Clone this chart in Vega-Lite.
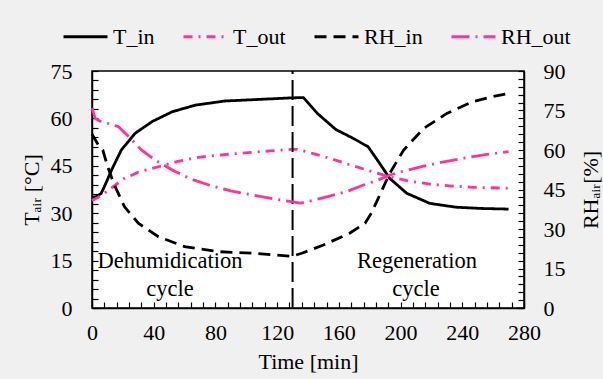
{
  "$schema": "https://vega.github.io/schema/vega-lite/v6.json",
  "width": 432,
  "height": 237,
  "autosize": {"type": "none"},
  "padding": {"left": 92, "top": 71, "right": 79, "bottom": 71},
  "background": "#f0f0f0",
  "config": {
    "view": {"fill": "white", "stroke": "black", "strokeWidth": 1.5},
    "font": "Liberation Serif",
    "axis": {
      "labelFont": "Liberation Serif",
      "titleFont": "Liberation Serif",
      "labelFontSize": 22,
      "titleFontSize": 22,
      "titleFontWeight": "normal",
      "labelColor": "black",
      "titleColor": "black",
      "domainColor": "black",
      "domainWidth": 1.5,
      "ticks": true,
      "tickColor": "black",
      "tickWidth": 1.2,
      "tickSize": -6,
      "labelOverlap": false,
      "labelBound": false,
      "labelFlush": false,
      "grid": false,
      "zindex": 1
    }
  },
  "datasets": {
    "temp": [
      {"t": 0, "v": 35, "s": "T_in"}, {"t": 3, "v": 35.3, "s": "T_in"}, {"t": 6, "v": 36.3, "s": "T_in"},
      {"t": 9, "v": 39.5, "s": "T_in"}, {"t": 13, "v": 44, "s": "T_in"}, {"t": 19, "v": 50, "s": "T_in"},
      {"t": 28, "v": 55.3, "s": "T_in"}, {"t": 39, "v": 59, "s": "T_in"}, {"t": 52, "v": 62.1, "s": "T_in"},
      {"t": 67, "v": 64.2, "s": "T_in"}, {"t": 86, "v": 65.5, "s": "T_in"}, {"t": 108, "v": 66, "s": "T_in"},
      {"t": 129, "v": 66.5, "s": "T_in"}, {"t": 137, "v": 66.6, "s": "T_in"}, {"t": 146, "v": 61.6, "s": "T_in"},
      {"t": 158, "v": 56.5, "s": "T_in"}, {"t": 170, "v": 53.5, "s": "T_in"}, {"t": 179, "v": 51, "s": "T_in"},
      {"t": 185, "v": 46.8, "s": "T_in"}, {"t": 193, "v": 41, "s": "T_in"}, {"t": 204, "v": 36.3, "s": "T_in"},
      {"t": 219, "v": 33.1, "s": "T_in"}, {"t": 236, "v": 31.9, "s": "T_in"}, {"t": 252, "v": 31.5, "s": "T_in"},
      {"t": 270, "v": 31.3, "s": "T_in"},
      {"t": 0, "v": 34, "s": "T_out"}, {"t": 4, "v": 35, "s": "T_out"}, {"t": 8, "v": 36.3, "s": "T_out"},
      {"t": 14, "v": 38.5, "s": "T_out"}, {"t": 21, "v": 41, "s": "T_out"}, {"t": 30, "v": 43, "s": "T_out"},
      {"t": 43, "v": 44.7, "s": "T_out"}, {"t": 55, "v": 46.3, "s": "T_out"}, {"t": 69, "v": 47.7, "s": "T_out"},
      {"t": 85, "v": 48.5, "s": "T_out"}, {"t": 99, "v": 49.1, "s": "T_out"}, {"t": 115, "v": 49.7, "s": "T_out"},
      {"t": 129, "v": 50.2, "s": "T_out"}, {"t": 133, "v": 50.2, "s": "T_out"}, {"t": 144, "v": 48.8, "s": "T_out"},
      {"t": 154, "v": 47.4, "s": "T_out"}, {"t": 166, "v": 45.5, "s": "T_out"}, {"t": 178, "v": 43.7, "s": "T_out"},
      {"t": 186, "v": 42.5, "s": "T_out"}, {"t": 193, "v": 41.5, "s": "T_out"}, {"t": 205, "v": 40.2, "s": "T_out"},
      {"t": 219, "v": 39.2, "s": "T_out"}, {"t": 233, "v": 38.6, "s": "T_out"}, {"t": 247, "v": 38.2, "s": "T_out"},
      {"t": 270, "v": 37.9, "s": "T_out"}
    ],
    "rh": [
      {"t": 0, "v": 66, "s": "RH_in"}, {"t": 2, "v": 64, "s": "RH_in"}, {"t": 4, "v": 62, "s": "RH_in"},
      {"t": 7, "v": 60, "s": "RH_in"}, {"t": 10, "v": 54, "s": "RH_in"}, {"t": 14, "v": 47.4, "s": "RH_in"},
      {"t": 21, "v": 38.5, "s": "RH_in"}, {"t": 30, "v": 32.2, "s": "RH_in"}, {"t": 43, "v": 27.1, "s": "RH_in"},
      {"t": 60, "v": 23.3, "s": "RH_in"}, {"t": 82, "v": 21.4, "s": "RH_in"}, {"t": 104, "v": 20.8, "s": "RH_in"},
      {"t": 128, "v": 19.7, "s": "RH_in"}, {"t": 130, "v": 19.7, "s": "RH_in"}, {"t": 136, "v": 20.8, "s": "RH_in"},
      {"t": 150, "v": 23.9, "s": "RH_in"}, {"t": 167, "v": 28.4, "s": "RH_in"}, {"t": 177, "v": 32.2, "s": "RH_in"},
      {"t": 181, "v": 36, "s": "RH_in"}, {"t": 185, "v": 41, "s": "RH_in"}, {"t": 193, "v": 51.2, "s": "RH_in"},
      {"t": 202, "v": 60, "s": "RH_in"}, {"t": 215, "v": 68.2, "s": "RH_in"}, {"t": 230, "v": 73.9, "s": "RH_in"},
      {"t": 247, "v": 78.4, "s": "RH_in"}, {"t": 260, "v": 80.3, "s": "RH_in"}, {"t": 270, "v": 81.5, "s": "RH_in"},
      {"t": 0, "v": 76, "s": "RH_out"}, {"t": 2, "v": 72, "s": "RH_out"}, {"t": 5, "v": 71, "s": "RH_out"},
      {"t": 10, "v": 70.2, "s": "RH_out"}, {"t": 17, "v": 68.9, "s": "RH_out"}, {"t": 24, "v": 65, "s": "RH_out"},
      {"t": 32, "v": 60, "s": "RH_out"}, {"t": 42, "v": 55.8, "s": "RH_out"}, {"t": 52, "v": 52.4, "s": "RH_out"},
      {"t": 64, "v": 49, "s": "RH_out"}, {"t": 78, "v": 46.3, "s": "RH_out"}, {"t": 90, "v": 44.5, "s": "RH_out"},
      {"t": 104, "v": 42.9, "s": "RH_out"}, {"t": 117, "v": 41.5, "s": "RH_out"}, {"t": 129, "v": 40.4, "s": "RH_out"},
      {"t": 135, "v": 39.8, "s": "RH_out"}, {"t": 144, "v": 41, "s": "RH_out"}, {"t": 154, "v": 42.5, "s": "RH_out"},
      {"t": 165, "v": 44.2, "s": "RH_out"}, {"t": 176, "v": 46.7, "s": "RH_out"}, {"t": 185, "v": 48.5, "s": "RH_out"},
      {"t": 193, "v": 50.5, "s": "RH_out"}, {"t": 204, "v": 52.3, "s": "RH_out"}, {"t": 215, "v": 53.9, "s": "RH_out"},
      {"t": 228, "v": 55.5, "s": "RH_out"}, {"t": 241, "v": 56.9, "s": "RH_out"}, {"t": 255, "v": 58.2, "s": "RH_out"},
      {"t": 270, "v": 59.4, "s": "RH_out"}
    ],
    "divider": [{"t": 130, "v": 0, "hi": 75}],
    "notes": [
      {"t": 50.6, "v": 14.9, "label": "Dehumidication"},
      {"t": 50.6, "v": 6.0, "label": "cycle"},
      {"t": 210.6, "v": 14.9, "label": "Regeneration"},
      {"t": 210.0, "v": 6.0, "label": "cycle"}
    ]
  },
  "encoding": {
    "x": {
      "field": "t", "type": "quantitative",
      "scale": {"domain": [0, 280], "nice": false},
      "axis": {
        "title": "Time [min]",
        "values": [0,8,16,24,32,40,48,56,64,72,80,88,96,104,112,120,128,136,144,152,160,168,176,184,192,200,208,216,224,232,240,248,256,264,272,280],
        "labelExpr": "datum.value % 40 == 0 ? datum.label : ''",
        "labelOverlap": false,
        "labelPadding": 20,
        "titlePadding": 8
      }
    }
  },
  "layer": [
    {
      "encoding": {
        "y": {
          "field": "v", "type": "quantitative",
          "scale": {"domain": [0, 75], "nice": false},
          "axis": {
            "title": "Tₐᵢᵣ [°C]",
            "values": [0,3,6,9,12,15,18,21,24,27,30,33,36,39,42,45,48,51,54,57,60,63,66,69,72,75],
            "labelExpr": "datum.value % 15 == 0 ? datum.label : ''",
            "labelOverlap": false,
            "labelPadding": 26,
            "titlePadding": 7
          }
        }
      },
      "layer": [
        {
          "data": {"name": "temp"},
          "mark": {"type": "line", "strokeWidth": 2.8},
          "encoding": {
            "color": {
              "field": "s", "type": "nominal",
              "scale": {"domain": ["T_in", "T_out", "RH_in", "RH_out"], "range": ["black", "#ff3399", "black", "#ff3399"]},
              "legend": {
                "title": null, "orient": "none", "direction": "horizontal",
                "legendX": -30, "legendY": -58,
                "symbolType": "stroke", "symbolSize": 1936, "symbolStrokeWidth": 3,
                "labelFont": "Liberation Serif", "labelFontSize": 22, "labelColor": "black",
                "labelOffset": 4, "columnPadding": 22
              }
            },
            "strokeDash": {
              "field": "s", "type": "nominal",
              "scale": {"domain": ["T_in", "T_out", "RH_in", "RH_out"], "range": [[1, 0], [9, 6, 2, 6], [12, 7], [18, 6, 2, 6]]},
              "legend": {
                "title": null, "orient": "none", "direction": "horizontal",
                "legendX": -30, "legendY": -58,
                "symbolType": "stroke", "symbolSize": 1936, "symbolStrokeWidth": 3,
                "labelFont": "Liberation Serif", "labelFontSize": 22, "labelColor": "black",
                "labelOffset": 4, "columnPadding": 22
              }
            }
          }
        },
        {
          "data": {"name": "divider"},
          "mark": {"type": "rule", "color": "black", "strokeWidth": 2, "strokeDash": [20, 6]},
          "encoding": {
            "y2": {"field": "hi"}
          }
        },
        {
          "data": {"name": "notes"},
          "mark": {"type": "text", "font": "Liberation Serif", "fontSize": 22.5, "color": "black", "baseline": "middle", "align": "center"},
          "encoding": {
            "text": {"field": "label"}
          }
        }
      ]
    },
    {
      "data": {"name": "rh"},
      "mark": {"type": "line", "strokeWidth": 2.8},
      "encoding": {
        "y": {
          "field": "v", "type": "quantitative",
          "scale": {"domain": [0, 90], "nice": false},
          "axis": {
            "orient": "right",
            "title": "RHₐᵢᵣ[%]",
            "titleAngle": -90,
            "titleBaseline": "top",
            "values": [0,3,6,9,12,15,18,21,24,27,30,33,36,39,42,45,48,51,54,57,60,63,66,69,72,75,78,81,84,87,90],
            "labelExpr": "datum.value % 15 == 0 ? datum.label : ''",
            "labelOverlap": false,
            "labelPadding": 25,
            "titlePadding": 15
          }
        },
        "color": {"field": "s", "type": "nominal"},
        "strokeDash": {"field": "s", "type": "nominal"}
      }
    }
  ],
  "resolve": {"scale": {"y": "independent"}}
}
